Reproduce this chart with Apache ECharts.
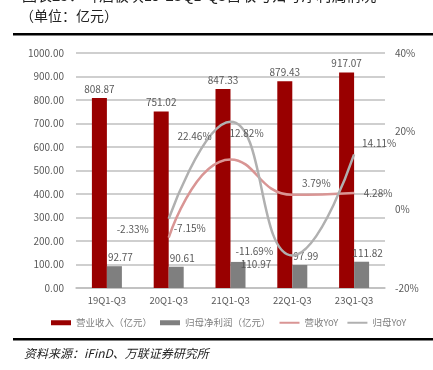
<!DOCTYPE html>
<html>
<head>
<meta charset="utf-8">
<script src="https://cdn.jsdelivr.net/npm/echarts@6/dist/echarts.min.js"></script>
<style>
html,body{margin:0;padding:0;background:#fff;}
#char{width:433px;height:370px;}
</style>
</head>
<body>
<div id="char"></div>
<script>
// 数据
var categories = ['19Q1-Q3', '20Q1-Q3', '21Q1-Q3', '22Q1-Q3', '23Q1-Q3'];
var revenue = [808.87, 751.02, 847.33, 879.43, 917.07];
var profit = [92.77, 90.61, 110.97, 97.99, 111.82];
var revenueYoY = [null, -7.15, 12.82, 3.79, 4.28];
var profitYoY = [null, -2.33, 22.46, -11.69, 14.11];

var FONT = '"Noto Sans CJK SC", sans-serif';
var labelColor = '#595959';

// 标签偏移（像Excel的数据标签）
var revYoYOffset = [null, [21, -9], [16, -26], [24, -12], [24, 0]];
var proYoYOffset = [null, [-36, 10], [-36, 15], [-38, -4], [25, -11]];

var dom = document.getElementById("char");
var myChart = echarts.init(dom);

var option = {
    animation: false,
    textStyle: {fontFamily: FONT},
    graphic: [
        {type: 'text', left: 22, top: -12, style: {text: '图表25：啤酒板块19-23Q1-Q3营收与归母净利润情况', font: '15px ' + FONT, fill: '#222'}},
        {type: 'text', left: 20, top: 9, style: {text: '（单位：亿元）', font: '14px ' + FONT, fill: '#222'}},
        {type: 'rect', shape: {x: 13, y: 33, width: 420, height: 2.5}, style: {fill: '#000'}},
        {type: 'rect', shape: {x: 13, y: 338, width: 420, height: 2.5}, style: {fill: '#000'}},
        {type: 'text', left: 24, top: 347, style: {text: '资料来源：iFinD、万联证券研究所', font: 'italic 12px ' + FONT, fill: '#222'}}
    ],
    grid: {left: 76, right: 48, top: 53, bottom: 82},
    legend: {
        top: 313,
        left: 46,
        itemWidth: 20,
        itemHeight: 5,
        itemGap: 8,
        textStyle: {color: '#7f7f7f', fontSize: 9.5, fontFamily: FONT},
        data: [
            {name: '营业收入（亿元）', icon: 'rect'},
            {name: '归母净利润（亿元）', icon: 'rect'},
            {name: '营收YoY', itemStyle: {opacity: 0}},
            {name: '归母YoY', itemStyle: {opacity: 0}}
        ]
    },
    xAxis: {
        type: 'category',
        data: categories,
        axisTick: {show: false},
        axisLine: {lineStyle: {color: '#bfbfbf', width: 1.5}},
        axisLabel: {color: labelColor, fontSize: 9.5, margin: 8}
    },
    yAxis: [
        {
            type: 'value',
            min: 0, max: 1000, interval: 100,
            axisLine: {show: false},
            axisTick: {show: false},
            axisLabel: {color: labelColor, fontSize: 10, margin: 12, formatter: function (v) { return v.toFixed(2); }},
            splitLine: {lineStyle: {color: '#bfbfbf', width: 1.5}}
        },
        {
            type: 'value',
            min: -20, max: 40, interval: 20,
            axisLine: {show: false},
            axisTick: {show: false},
            splitLine: {show: false},
            axisLabel: {color: labelColor, fontSize: 10, margin: 10, formatter: '{value}%'}
        }
    ],
    series: [
        {
            name: '营业收入（亿元）',
            type: 'bar',
            data: revenue,
            barWidth: 15,
            barGap: '0%',
            itemStyle: {color: '#990000'},
            label: {show: true, position: 'top', distance: 4, color: labelColor, fontSize: 10,
                formatter: function (p) { return p.value.toFixed(2); }}
        },
        {
            name: '归母净利润（亿元）',
            type: 'bar',
            data: profit.map(function (v, i) {
                var d = {value: v};
                if (i === 2) d.label = {offset: [18, 11]};
                else d.label = {offset: [6, 0]};
                return d;
            }),
            barWidth: 15,
            itemStyle: {color: '#7f7f7f'},
            label: {show: true, position: 'top', distance: 4, color: labelColor, fontSize: 10,
                formatter: function (p) { return p.value.toFixed(2); }}
        },
        {
            name: '营收YoY',
            type: 'line',
            yAxisIndex: 1,
            smooth: 0.5,
            symbol: 'circle',
            symbolSize: 0,
            showSymbol: true,
            data: revenueYoY,
            itemStyle: {color: '#d99594'},
            lineStyle: {color: '#d99594', width: 2.5},
            label: {show: true, color: labelColor, fontSize: 10, position: 'inside',
                formatter: function (p) { return p.value.toFixed(2) + '%'; }},
            labelLayout: function (p) {
                var o = revYoYOffset[p.dataIndex] || [0, 0];
                return {dx: o[0], dy: o[1]};
            }
        },
        {
            name: '归母YoY',
            type: 'line',
            yAxisIndex: 1,
            smooth: 0.5,
            symbol: 'circle',
            symbolSize: 0,
            showSymbol: true,
            data: profitYoY,
            itemStyle: {color: '#b0b0b0'},
            lineStyle: {color: '#b0b0b0', width: 2.5},
            label: {show: true, color: labelColor, fontSize: 10, position: 'inside',
                formatter: function (p) { return p.value.toFixed(2) + '%'; }},
            labelLayout: function (p) {
                var o = proYoYOffset[p.dataIndex] || [0, 0];
                return {dx: o[0], dy: o[1]};
            }
        }
    ]
};
myChart.setOption(option);
</script>
</body>
</html>
